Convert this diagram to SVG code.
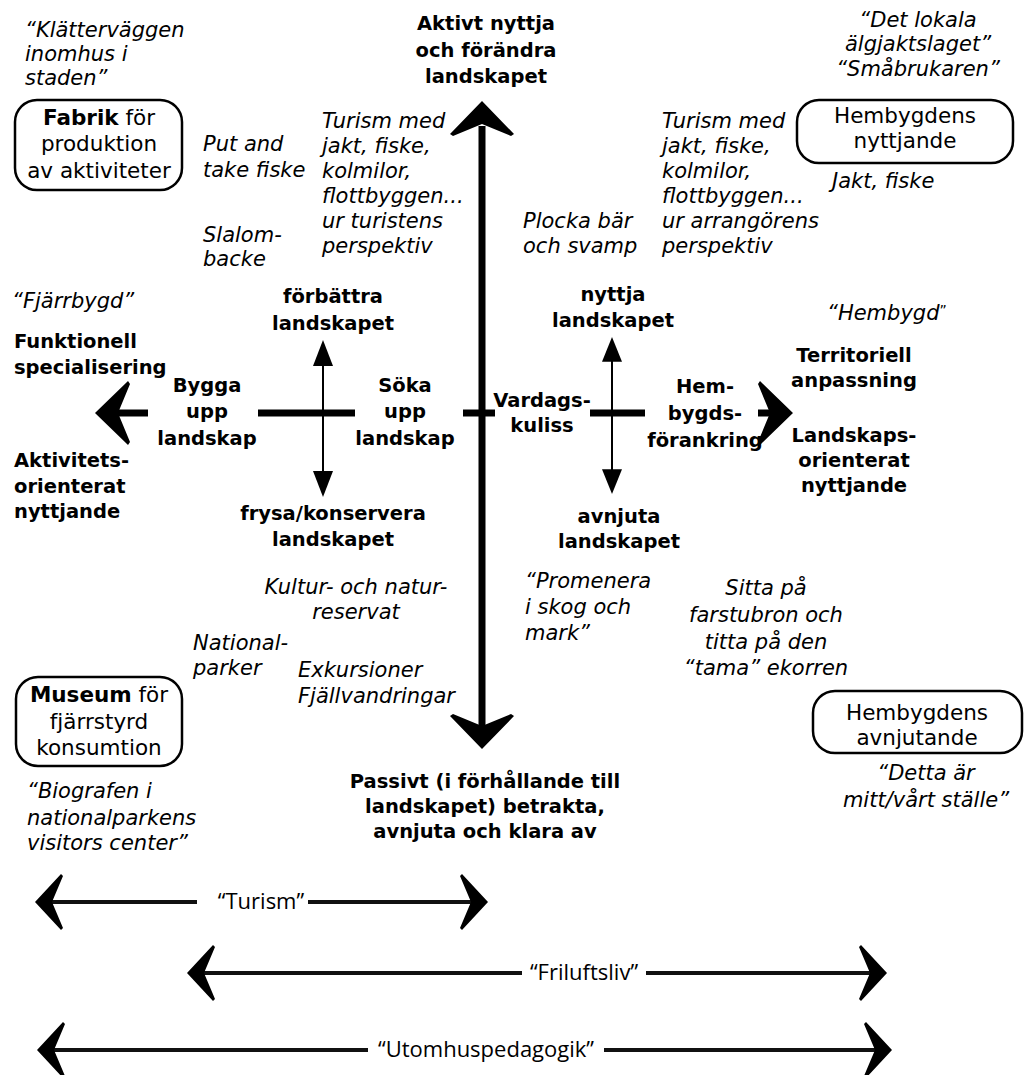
<svg xmlns="http://www.w3.org/2000/svg" xmlns:xlink="http://www.w3.org/1999/xlink" width="1033" height="1075" viewBox="0 0 1033 1075">
  <defs>
    <style>
      text { fill: #000; }
      .b { font-family: "DejaVu Sans", "Liberation Sans", sans-serif; font-weight: 700; font-size: 19.5px; text-anchor: middle; }
      .bl { font-family: "DejaVu Sans", "Liberation Sans", sans-serif; font-weight: 700; font-size: 19.5px; }
      .i { font-family: "DejaVu Sans", "Liberation Sans", sans-serif; font-style: italic; font-size: 21px; }
      .im { font-family: "DejaVu Sans", "Liberation Sans", sans-serif; font-style: italic; font-size: 21px; text-anchor: middle; }
      .r { font-family: "DejaVu Sans", "Liberation Sans", sans-serif; font-size: 21.5px; text-anchor: middle; }
      .lab { font-family: "Open Sans", "DejaVu Sans", sans-serif; font-size: 22px; text-anchor: middle; }
      .box { fill: #fff; stroke: #000; stroke-width: 2.5; }
      .axis { stroke: #000; stroke-width: 7; fill: none; }
      .thin { stroke: #000; stroke-width: 2; fill: none; }
      .span { stroke: #111; stroke-width: 4; fill: none; }
      .head { fill: #000; }
    </style>
    <!-- chevron heads, pointing left with tip at origin -->
    <path id="bigHead" d="M0,0 L33,-32 L35,-29 L23,0 L35,29 L33,32 Z"/>
    <path id="spanHead" d="M0,0 L26,-28 L28,-26 L17,0 L28,26 L26,28 Z"/>
    <path id="triUp" d="M0,0 L-10,26 L10,26 Z"/>
  </defs>

  <rect width="1033" height="1075" fill="#fff"/>

  <!-- connectors: main axes, small axes and range bars -->
  <g id="connectors">
    <!-- vertical main axis -->
    <line class="axis" x1="482" y1="126" x2="482" y2="726"/>
    <use href="#bigHead" class="head" transform="translate(482,101) rotate(90)"/>
    <use href="#bigHead" class="head" transform="translate(482,749) rotate(-90)"/>

    <!-- horizontal main axis, broken by its labels -->
    <line class="axis" x1="116" y1="413" x2="148" y2="413"/>
    <line class="axis" x1="258" y1="413" x2="355" y2="413"/>
    <line class="axis" x1="463" y1="413" x2="495" y2="413"/>
    <line class="axis" x1="590" y1="413" x2="645" y2="413"/>
    <line class="axis" x1="758" y1="413" x2="771" y2="413"/>
    <use href="#bigHead" class="head" transform="translate(95,413)"/>
    <use href="#bigHead" class="head" transform="translate(793,413) scale(-1,1)"/>

    <!-- left small axis -->
    <line class="thin" x1="323" y1="362" x2="323" y2="474"/>
    <use href="#triUp" class="head" transform="translate(323,340)"/>
    <use href="#triUp" class="head" transform="translate(323,497) scale(1,-1)"/>

    <!-- right small axis -->
    <line class="thin" x1="612" y1="358" x2="612" y2="472"/>
    <use href="#triUp" class="head" transform="translate(612,337) scale(1,0.95)"/>
    <use href="#triUp" class="head" transform="translate(612,494) scale(1,-0.95)"/>

    <!-- range bars -->
    <line class="span" x1="50" y1="902" x2="197" y2="902"/>
    <line class="span" x1="308" y1="902" x2="472" y2="902"/>
    <use href="#spanHead" class="head" transform="translate(35,902)"/>
    <use href="#spanHead" class="head" transform="translate(488,902) scale(-1,1)"/>

    <line class="span" x1="202" y1="973" x2="522" y2="973"/>
    <line class="span" x1="646" y1="973" x2="872" y2="973"/>
    <use href="#spanHead" class="head" transform="translate(187,973)"/>
    <use href="#spanHead" class="head" transform="translate(887,973) scale(-1,1)"/>

    <line class="span" x1="52" y1="1050" x2="368" y2="1050"/>
    <line class="span" x1="604" y1="1050" x2="877" y2="1050"/>
    <use href="#spanHead" class="head" transform="translate(37,1050)"/>
    <use href="#spanHead" class="head" transform="translate(892,1050) scale(-1,1)"/>
  </g>

  <!-- boxed nodes -->
  <g id="fabrik">
    <rect class="box" x="15" y="100" width="167" height="90" rx="22"/>
    <text class="r" x="99" y="125"><tspan font-weight="700">Fabrik</tspan> för</text>
    <text class="r" x="99" y="151">produktion</text>
    <text class="r" x="99" y="178">av aktiviteter</text>
  </g>
  <g id="hembygdens-nyttjande">
    <rect class="box" x="797" y="100" width="216" height="63" rx="22"/>
    <text class="r" x="905" y="123">Hembygdens</text>
    <text class="r" x="905" y="148">nyttjande</text>
  </g>
  <g id="museum">
    <rect class="box" x="16" y="677" width="166" height="89" rx="22"/>
    <text class="r" x="99" y="702"><tspan font-weight="700">Museum</tspan> för</text>
    <text class="r" x="99" y="729">fjärrstyrd</text>
    <text class="r" x="99" y="755">konsumtion</text>
  </g>
  <g id="hembygdens-avnjutande">
    <rect class="box" x="813" y="691" width="209" height="62" rx="22"/>
    <text class="r" x="917" y="720">Hembygdens</text>
    <text class="r" x="917" y="745">avnjutande</text>
  </g>

  <!-- axis poles -->
  <g id="pole-aktivt">
    <text class="b" x="486" y="30">Aktivt nyttja</text>
    <text class="b" x="486" y="57">och förändra</text>
    <text class="b" x="486" y="83">landskapet</text>
  </g>
  <g id="pole-passivt">
    <text class="b" x="485" y="788">Passivt (i förhållande till</text>
    <text class="b" x="485" y="813">landskapet) betrakta,</text>
    <text class="b" x="485" y="838">avnjuta och klara av</text>
  </g>
  <g id="pole-funktionell">
    <text class="i" x="12" y="308">“Fjärrbygd”</text>
    <text class="bl" x="14" y="348">Funktionell</text>
    <text class="bl" x="14" y="374">specialisering</text>
    <text class="bl" x="14" y="467">Aktivitets-</text>
    <text class="bl" x="14" y="493">orienterat</text>
    <text class="bl" x="14" y="518">nyttjande</text>
  </g>
  <g id="pole-territoriell">
    <text class="i" x="827" y="320">“Hembygd<tspan font-size="14" font-style="normal" dy="-5">”</tspan></text>
    <text class="b" x="854" y="362">Territoriell</text>
    <text class="b" x="854" y="387">anpassning</text>
    <text class="b" x="854" y="442">Landskaps-</text>
    <text class="b" x="854" y="467">orienterat</text>
    <text class="b" x="854" y="492">nyttjande</text>
  </g>

  <!-- labels along the horizontal axis -->
  <g id="bygga">
    <text class="b" x="207" y="392">Bygga</text>
    <text class="b" x="207" y="418">upp</text>
    <text class="b" x="207" y="445">landskap</text>
  </g>
  <g id="soka">
    <text class="b" x="405" y="392">Söka</text>
    <text class="b" x="405" y="418">upp</text>
    <text class="b" x="405" y="445">landskap</text>
  </g>
  <g id="vardagskuliss">
    <text class="b" x="542" y="407">Vardags-</text>
    <text class="b" x="542" y="432">kuliss</text>
  </g>
  <g id="hembygdsforankring">
    <text class="b" x="705" y="393">Hem-</text>
    <text class="b" x="705" y="420">bygds-</text>
    <text class="b" x="705" y="447">förankring</text>
  </g>

  <!-- ends of the small axes -->
  <g id="forbattra">
    <text class="b" x="333" y="303">förbättra</text>
    <text class="b" x="333" y="330">landskapet</text>
  </g>
  <g id="frysa">
    <text class="b" x="333" y="520">frysa/konservera</text>
    <text class="b" x="333" y="546">landskapet</text>
  </g>
  <g id="nyttja">
    <text class="b" x="613" y="301">nyttja</text>
    <text class="b" x="613" y="327">landskapet</text>
  </g>
  <g id="avnjuta">
    <text class="b" x="619" y="523">avnjuta</text>
    <text class="b" x="619" y="548">landskapet</text>
  </g>

  <!-- examples -->
  <g id="examples">
    <text class="i" x="25" y="37">“Klätterväggen</text>
    <text class="i" x="25" y="61">inomhus i</text>
    <text class="i" x="25" y="85">staden”</text>

    <text class="i" x="203" y="151">Put and</text>
    <text class="i" x="203" y="177">take fiske</text>
    <text class="i" x="203" y="242">Slalom-</text>
    <text class="i" x="203" y="266">backe</text>

    <text class="i" x="322" y="128">Turism med</text>
    <text class="i" x="322" y="153">jakt, fiske,</text>
    <text class="i" x="322" y="178">kolmilor,</text>
    <text class="i" x="322" y="203">flottbyggen...</text>
    <text class="i" x="322" y="228">ur turistens</text>
    <text class="i" x="322" y="253">perspektiv</text>

    <text class="i" x="523" y="228">Plocka bär</text>
    <text class="i" x="523" y="253">och svamp</text>

    <text class="i" x="662" y="128">Turism med</text>
    <text class="i" x="662" y="153">jakt, fiske,</text>
    <text class="i" x="662" y="178">kolmilor,</text>
    <text class="i" x="662" y="203">flottbyggen...</text>
    <text class="i" x="662" y="228">ur arrangörens</text>
    <text class="i" x="662" y="253">perspektiv</text>

    <text class="im" x="918" y="27">“Det lokala</text>
    <text class="im" x="918" y="51">älgjaktslaget”</text>
    <text class="im" x="918" y="76">“Småbrukaren”</text>
    <text class="i" x="832" y="188">Jakt, fiske</text>

    <text class="im" x="356" y="594">Kultur- och natur-</text>
    <text class="im" x="356" y="619">reservat</text>
    <text class="i" x="193" y="650">National-</text>
    <text class="i" x="193" y="675">parker</text>
    <text class="i" x="298" y="677">Exkursioner</text>
    <text class="i" x="298" y="703">Fjällvandringar</text>

    <text class="i" x="27" y="798">“Biografen i</text>
    <text class="i" x="27" y="825">nationalparkens</text>
    <text class="i" x="27" y="850">visitors center”</text>

    <text class="i" x="525" y="588">“Promenera</text>
    <text class="i" x="525" y="614">i skog och</text>
    <text class="i" x="525" y="640">mark”</text>

    <text class="im" x="766" y="595">Sitta på</text>
    <text class="im" x="766" y="622">farstubron och</text>
    <text class="im" x="766" y="649">titta på den</text>
    <text class="im" x="766" y="675">“tama” ekorren</text>

    <text class="im" x="926" y="780">“Detta är</text>
    <text class="im" x="926" y="807">mitt/vårt ställe”</text>
  </g>

  <!-- range bar labels -->
  <g id="range-labels">
    <text class="lab" x="261" y="909">“Turism”</text>
    <text class="lab" x="584" y="980">“Friluftsliv”</text>
    <text class="lab" x="486" y="1057">“Utomhuspedagogik”</text>
  </g>
</svg>
